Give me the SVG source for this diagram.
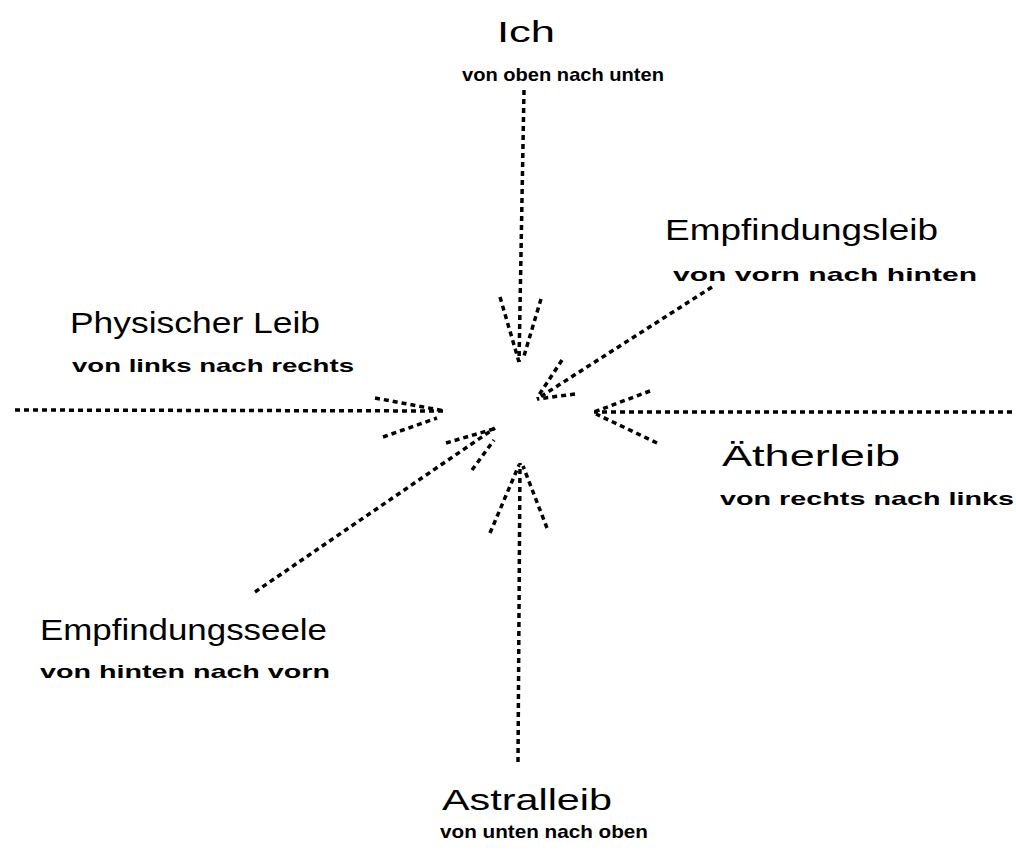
<svg xmlns="http://www.w3.org/2000/svg" width="1016" height="853" viewBox="0 0 1016 853">
<style>
.t{font-family:"Liberation Sans","DejaVu Sans",sans-serif;font-size:30px;fill:#000}
.s{font-family:"Liberation Sans","DejaVu Sans",sans-serif;font-size:19px;font-weight:bold;fill:#000}
.a line{stroke:#000;stroke-width:3.5;stroke-dasharray:5 4;fill:none}
</style>
<rect width="1016" height="853" fill="#fff"/>
<g id="connectors" class="a">
<g id="arrow-ich">
<line x1="524" y1="90" x2="519" y2="362"/>
<line x1="500" y1="297" x2="519" y2="362"/>
<line x1="541" y1="299" x2="524" y2="356"/>
</g>
<g id="arrow-empfindungsleib">
<line x1="712" y1="287" x2="537" y2="399"/>
<line x1="562" y1="360" x2="539" y2="395"/>
<line x1="575" y1="394" x2="537" y2="399"/>
</g>
<g id="arrow-physischer">
<line x1="15" y1="410" x2="445" y2="411"/>
<line x1="375" y1="398" x2="445" y2="411"/>
<line x1="383" y1="437" x2="437" y2="418"/>
</g>
<g id="arrow-aether">
<line x1="1012" y1="412" x2="594" y2="412"/>
<line x1="650" y1="391" x2="594" y2="412"/>
<line x1="657" y1="443" x2="596" y2="414"/>
</g>
<g id="arrow-empfindungsseele">
<line x1="255" y1="592" x2="495" y2="428"/>
<line x1="446" y1="443" x2="497" y2="428"/>
<line x1="472" y1="470" x2="494" y2="440"/>
</g>
<g id="arrow-astral">
<line x1="518" y1="762" x2="520" y2="463"/>
<line x1="490" y1="533" x2="519" y2="465"/>
<line x1="547" y1="528" x2="523" y2="466"/>
</g>
</g>
<g id="node-ich">
<text class="t" x="497" y="42" textLength="58" lengthAdjust="spacingAndGlyphs">Ich</text>
<text class="s" x="462" y="81" textLength="202" lengthAdjust="spacingAndGlyphs">von oben nach unten</text>
</g>
<g id="node-empfindungsleib">
<text class="t" x="665" y="240" textLength="273" lengthAdjust="spacingAndGlyphs">Empfindungsleib</text>
<text class="s" x="673" y="281" textLength="304" lengthAdjust="spacingAndGlyphs">von vorn nach hinten</text>
</g>
<g id="node-physischer-leib">
<text class="t" x="70" y="333" textLength="250" lengthAdjust="spacingAndGlyphs">Physischer Leib</text>
<text class="s" x="72" y="372" textLength="282" lengthAdjust="spacingAndGlyphs">von links nach rechts</text>
</g>
<g id="node-aetherleib">
<text class="t" x="722" y="466" textLength="178" lengthAdjust="spacingAndGlyphs">Ätherleib</text>
<text class="s" x="720" y="505" textLength="294" lengthAdjust="spacingAndGlyphs">von rechts nach links</text>
</g>
<g id="node-empfindungsseele">
<text class="t" x="40" y="640" textLength="287" lengthAdjust="spacingAndGlyphs">Empfindungsseele</text>
<text class="s" x="40" y="678" textLength="290" lengthAdjust="spacingAndGlyphs">von hinten nach vorn</text>
</g>
<g id="node-astralleib">
<text class="t" x="442" y="810" textLength="170" lengthAdjust="spacingAndGlyphs">Astralleib</text>
<text class="s" x="440" y="838" textLength="208" lengthAdjust="spacingAndGlyphs">von unten nach oben</text>
</g>
</svg>
